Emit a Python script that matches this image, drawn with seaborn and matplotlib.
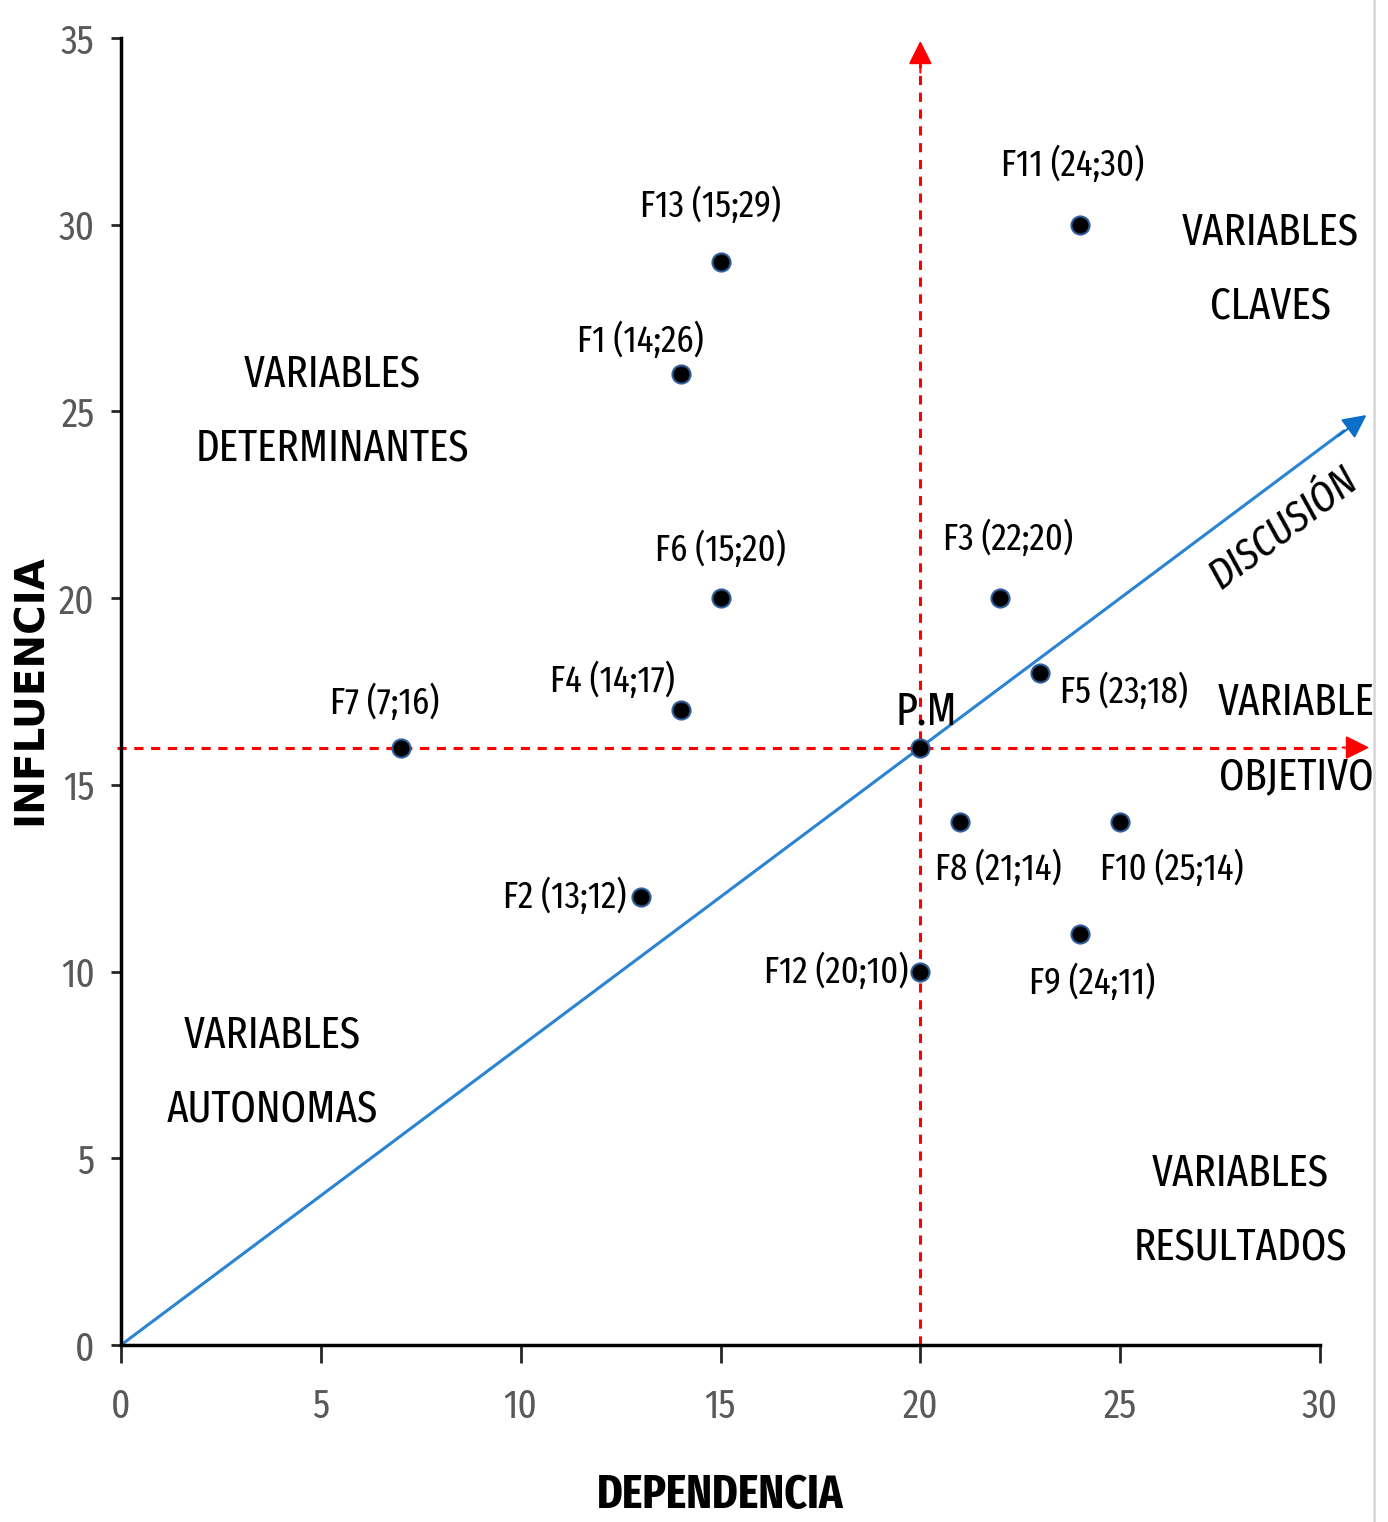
import matplotlib
matplotlib.use("Agg")
import matplotlib.pyplot as plt
import matplotlib.lines as mlines
import pandas as pd
import seaborn as sns

# factors: dependencia (x), influencia (y)
names = ["F1", "F2", "F3", "F4", "F5", "F6", "F7", "F8", "F9", "F10", "F11", "F12", "F13"]
dependencia = [14, 13, 22, 14, 23, 15, 7, 21, 24, 25, 24, 20, 15]
influencia = [26, 12, 20, 17, 18, 20, 16, 14, 11, 14, 30, 10, 29]
pm_x, pm_y = 20, 16

# label anchor positions (data coords)
label_pos = {
    "F1": (13.0, 26.9), "F2": (11.1, 12.0), "F3": (22.2, 21.6), "F4": (12.3, 17.8),
    "F5": (25.1, 17.5), "F6": (15.0, 21.3), "F7": (6.6, 17.2), "F8": (21.95, 12.75),
    "F9": (24.3, 9.7), "F10": (26.3, 12.75), "F11": (23.8, 31.6), "F12": (17.9, 10.0),
    "F13": (14.75, 30.5),
}

quadrants = [
    ("VARIABLES\nDETERMINANTES", 5.28, 25.0),
    ("VARIABLES\nCLAVES", 28.75, 28.8),
    ("VARIABLE\nOBJETIVO", 29.4, 16.2),
    ("VARIABLES\nAUTONOMAS", 3.78, 7.3),
    ("VARIABLES\nRESULTADOS", 28.0, 3.6),
]

df = pd.DataFrame({"name": names, "dep": dependencia, "inf": influencia})

sns.set_style("ticks")
plt.rcParams["font.family"] = ["Fira Sans Extra Condensed", "DejaVu Sans"]
plt.rcParams["font.stretch"] = "condensed"

fig = plt.figure(figsize=(13.88, 15.22), dpi=100)
ax = fig.add_axes([0.0872, 0.1163, 0.8638, 0.8587])

# reference lines (P.M cross)
ax.plot([20, 20], [0, 34.3], color="red", lw=2.2, ls=(0, (3, 2.5)), clip_on=False, zorder=2)
ax.annotate("", xy=(20, 35), xytext=(20, 34.0),
            arrowprops=dict(arrowstyle="-|>", color="red", lw=1.5, mutation_scale=36),
            annotation_clip=False)
ax.plot([-0.1, 30.6], [16, 16], color="red", lw=2.2, ls=(0, (3, 2.5)), clip_on=False, zorder=2)
ax.annotate("", xy=(31.3, 16), xytext=(30.5, 16),
            arrowprops=dict(arrowstyle="-|>", color="red", lw=1.5, mutation_scale=36),
            annotation_clip=False)

# discussion diagonal
ax.plot([0, 30.6], [0, 0.8 * 30.6], color="#2b83d3", lw=2.2, clip_on=False, zorder=2)
ax.annotate("", xy=(31.22, 24.95), xytext=(30.4, 24.3),
            arrowprops=dict(arrowstyle="-|>", color="#0a6fc8", lw=1.5, mutation_scale=36),
            annotation_clip=False)

sns.scatterplot(data=df, x="dep", y="inf", ax=ax, s=170, color="black",
                edgecolor="#2f5f9f", linewidth=1.5, zorder=4, legend=False)
ax.scatter([pm_x], [pm_y], s=170, color="black", edgecolor="#2f5f9f", linewidth=1.5, zorder=4)

for n, dx, dy in zip(names, dependencia, influencia):
    lx, ly = label_pos[n]
    ax.text(lx, ly, f"{n} ({dx};{dy})", fontsize=27, ha="center", va="center", color="black")
ax.text(20.15, 16.95, "P.M", fontsize=33, ha="center", va="center", color="black")

for txt, qx, qy in quadrants:
    ax.text(qx, qy, txt, fontsize=32, ha="center", va="center", linespacing=1.95,
            color="black", clip_on=False)

ax.text(29.1, 21.85, "DISCUSIÓN", fontsize=31, style="italic", rotation=37,
        ha="center", va="center", color="black", clip_on=False)

ax.set_xlim(0, 30)
ax.set_ylim(0, 35)
ax.set_xticks(range(0, 31, 5))
ax.set_yticks(range(0, 36, 5))
ax.tick_params(axis="x", length=13, width=2, pad=17, labelsize=29, labelcolor="#595959")
ax.tick_params(axis="y", length=7, width=2, pad=12, labelsize=29, labelcolor="#595959")
for side in ["left", "bottom"]:
    ax.spines[side].set_linewidth(2.5)
    ax.spines[side].set_color("black")
ax.spines["top"].set_visible(False)
ax.spines["right"].set_visible(False)
ax.set_xlabel("")
ax.set_ylabel("")

fig.text(720 / 1388, 26 / 1522, "DEPENDENCIA", fontsize=34, fontweight="bold",
         ha="center", va="center", color="black")
fig.text(31 / 1388, 832 / 1522, "INFLUENCIA", fontsize=29, fontweight="bold",
         rotation=90, ha="center", va="center", color="black",
         family="DejaVu Sans", fontstretch="normal")

fig.add_artist(mlines.Line2D([1374 / 1388, 1374 / 1388], [0, 1], color="#d9d9d9", lw=2))

fig.savefig("out.png", dpi=100)
